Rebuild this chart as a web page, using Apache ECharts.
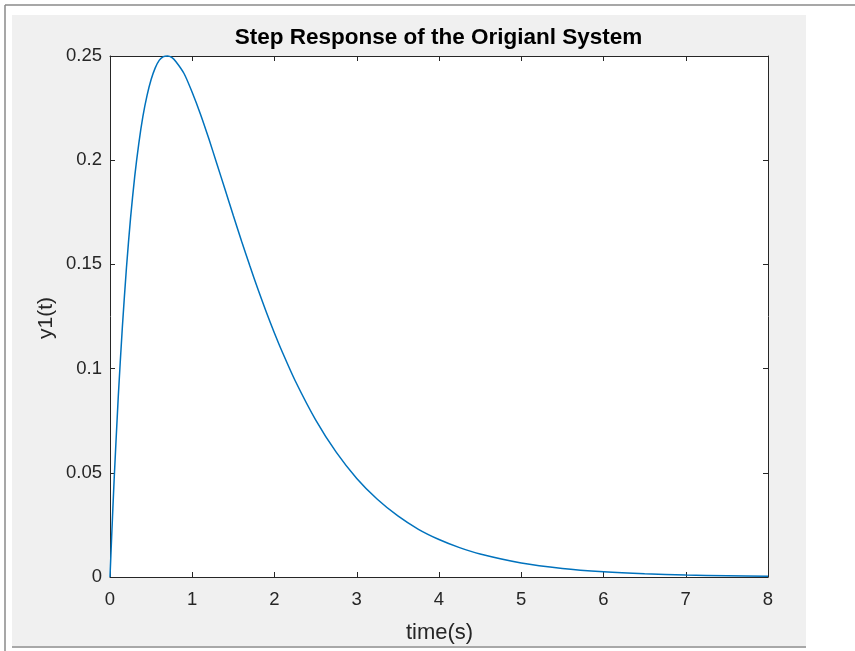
<!DOCTYPE html>
<html>
<head>
<meta charset="utf-8">
<script src="https://cdn.jsdelivr.net/npm/echarts@6/dist/echarts.min.js"></script>
<style>
  html, body { margin: 0; padding: 0; background: #ffffff; }
  #chart { width: 855px; height: 651px; }
</style>
</head>
<body>
<div id="chart"></div>
<script>
// Step response samples: time (s) and output y1(t)
const timeS = [0, 0.02, 0.05, 0.1, 0.15, 0.2, 0.25, 0.3, 0.35, 0.4, 0.45, 0.5, 0.55, 0.6, 0.65, 0.7, 0.75, 0.8, 0.9, 1.0, 1.1, 1.2, 1.3, 1.4, 1.5, 1.6, 1.7, 1.8, 1.9, 2.0, 2.1, 2.25, 2.5, 2.75, 3.0, 3.25, 3.5, 3.75, 4.0, 4.25, 4.5, 5.0, 5.5, 6.0, 6.5, 7.0, 7.5, 8.0];
const y1 = [0, 0.0192, 0.0464, 0.0861, 0.1197, 0.1484, 0.1723, 0.1920, 0.2080, 0.2210, 0.2310, 0.2387, 0.2443, 0.2480, 0.2497, 0.2500, 0.2493, 0.2474, 0.2416, 0.2325, 0.2221, 0.2105, 0.1982, 0.1858, 0.1733, 0.1611, 0.1493, 0.1380, 0.1272, 0.1170, 0.1075, 0.0943, 0.0754, 0.0599, 0.0473, 0.0373, 0.0293, 0.0229, 0.0180, 0.0141, 0.0110, 0.0067, 0.0041, 0.0025, 0.0015, 0.0009, 0.0006, 0.0003];
const xTicks = [0, 1, 2, 3, 4, 5, 6, 7, 8];
const yTicks = [0, 0.05, 0.1, 0.15, 0.2, 0.25];

const titleText = 'Step Response of the Origianl System';
const xName = 'time(s)';
const yName = 'y1(t)';

const axisColor = '#262626';
const font = '"Liberation Sans", Arial, Helvetica, sans-serif';

const chart = echarts.init(document.getElementById('chart'), null, { renderer: 'canvas' });

const gridL = 110, gridT = 56, gridW = 658, gridH = 521;

function frameAxis(extra) {
  return Object.assign({
    type: 'value',
    axisLine: { show: true, onZero: false, lineStyle: { color: axisColor, width: 1 } },
    axisTick: { show: true, inside: true, length: 5, lineStyle: { color: axisColor, width: 1 } },
    splitLine: { show: false },
    axisLabel: { show: false }
  }, extra);
}

const labelStyle = { show: true, color: axisColor, fontSize: 18.5, fontFamily: font };

chart.setOption({
  animation: false,
  backgroundColor: '#ffffff',
  graphic: [
    { type: 'line', z: -10, shape: { x1: 5, y1: 5, x2: 855, y2: 5 }, style: { stroke: '#8a8a8a', lineWidth: 1.5 } },
    { type: 'line', z: -10, shape: { x1: 5, y1: 5, x2: 5, y2: 651 }, style: { stroke: '#8a8a8a', lineWidth: 1.5 } },
    { type: 'rect', z: -20, shape: { x: 12, y: 15, width: 794, height: 632 }, style: { fill: '#f0f0f0' } },
    { type: 'line', z: -10, shape: { x1: 12, y1: 647, x2: 806, y2: 647 }, style: { stroke: '#a8a8a8', lineWidth: 2 } },
    { type: 'rect', z: -5, shape: { x: gridL, y: gridT, width: gridW, height: gridH }, style: { fill: '#ffffff' } },
    { type: 'text', z: 10, x: 438.5, y: 38,
      style: { text: titleText, fill: '#000000', font: 'bold 22.5px ' + font, textAlign: 'center', textVerticalAlign: 'middle' } },
    { type: 'text', z: 10, x: 439.5, y: 633,
      style: { text: xName, fill: axisColor, font: '22px ' + font, textAlign: 'center', textVerticalAlign: 'middle' } },
    { type: 'text', z: 10, x: 46, y: 318, rotation: Math.PI / 2,
      style: { text: yName, fill: axisColor, font: '21px ' + font, textAlign: 'center', textVerticalAlign: 'middle' } }
  ],
  grid: { left: gridL, top: gridT, width: gridW, height: gridH, containLabel: false },
  xAxis: [
    frameAxis({ position: 'bottom', min: xTicks[0], max: xTicks[xTicks.length - 1], interval: 1,
      axisLabel: Object.assign({ margin: 13 }, labelStyle) }),
    frameAxis({ position: 'top', min: xTicks[0], max: xTicks[xTicks.length - 1], interval: 1 })
  ],
  yAxis: [
    frameAxis({ position: 'left', min: yTicks[0], max: yTicks[yTicks.length - 1], interval: 0.05,
      axisLabel: Object.assign({ margin: 8 }, labelStyle) }),
    frameAxis({ position: 'right', min: yTicks[0], max: yTicks[yTicks.length - 1], interval: 0.05 })
  ],
  series: [{
    type: 'line',
    xAxisIndex: 0,
    yAxisIndex: 0,
    data: timeS.map((t, i) => [t, y1[i]]),
    showSymbol: false,
    smooth: 0.25,
    clip: false,
    lineStyle: { color: '#0072BD', width: 1.5 }
  }]
});
</script>
</body>
</html>
